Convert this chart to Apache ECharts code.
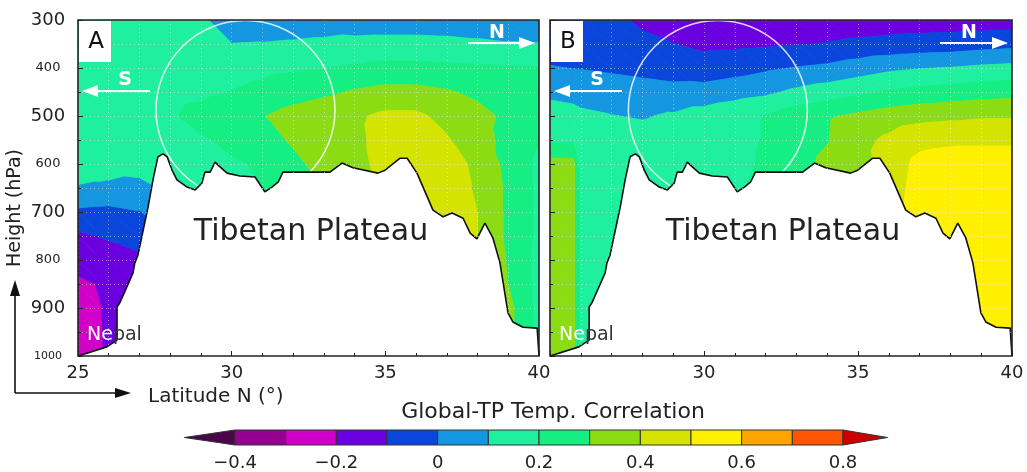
<!DOCTYPE html>
<html><head><meta charset="utf-8">
<script src="https://cdn.jsdelivr.net/npm/echarts@6/dist/echarts.min.js"></script>
<style>html,body{margin:0;padding:0;background:#fff}#c{width:1027px;height:472px}</style>
</head><body><div id="c"></div>
<script>
// ---------- data ----------
const lats = [25, 25.75, 26, 27, 28, 29, 30, 31, 32, 33, 34, 35, 36, 37, 38, 39, 40];
const pressures = [300, 350, 400, 450, 500, 550, 600, 650, 700, 750, 800, 850, 900, 950, 1000];

// Panel A correlation (rows: pressures, cols: lats)
const corrA = [
  [0.13, 0.13, 0.13, 0.12, 0.12, 0.11, 0.07, 0.06, 0.06, 0.06, 0.05, 0.05, 0.05, 0.05, 0.05, 0.06, 0.07],
  [0.15, 0.15, 0.15, 0.15, 0.15, 0.13, 0.101, 0.103, 0.108, 0.115, 0.125, 0.13, 0.13, 0.125, 0.115, 0.105, 0.102],
  [0.16, 0.16, 0.16, 0.16, 0.16, 0.16, 0.17, 0.18, 0.19, 0.198, 0.215, 0.23, 0.23, 0.22, 0.215, 0.21, 0.205],
  [0.16, 0.16, 0.16, 0.16, 0.17, 0.18, 0.202, 0.22, 0.25, 0.28, 0.31, 0.33, 0.33, 0.31, 0.28, 0.25, 0.22],
  [0.16, 0.16, 0.16, 0.17, 0.19, 0.23, 0.27, 0.295, 0.34, 0.37, 0.385, 0.42, 0.42, 0.37, 0.33, 0.28, 0.22],
  [0.14, 0.15, 0.15, 0.16, 0.17, 0.19, 0.22, 0.27, 0.31, 0.35, 0.38, 0.43, 0.44, 0.41, 0.34, 0.27, 0.205],
  [0.13, 0.13, 0.13, 0.14, 0.15, 0.17, 0.19, 0.21, 0.28, 0.33, 0.37, 0.43, 0.45, 0.44, 0.38, 0.27, 0.18],
  [0.095, 0.088, 0.085, 0.07, 0.12, 0.15, 0.18, 0.2, 0.25, 0.3, 0.35, 0.42, 0.45, 0.44, 0.39, 0.28, 0.18],
  [-0.02, -0.028, -0.03, -0.005, 0.05, 0.1, 0.15, 0.2, 0.25, 0.3, 0.35, 0.42, 0.45, 0.44, 0.40, 0.28, 0.18],
  [-0.12, -0.095, -0.09, -0.06, 0.01, 0.05, 0.1, 0.15, 0.2, 0.25, 0.3, 0.4, 0.45, 0.44, 0.40, 0.28, 0.18],
  [-0.17, -0.15, -0.14, -0.12, -0.05, 0.0, 0.05, 0.1, 0.15, 0.2, 0.25, 0.35, 0.42, 0.42, 0.40, 0.29, 0.17],
  [-0.215, -0.195, -0.18, -0.15, -0.1, -0.05, 0.0, 0.05, 0.1, 0.15, 0.2, 0.3, 0.4, 0.4, 0.40, 0.30, 0.17],
  [-0.27, -0.201, -0.18, -0.16, -0.12, -0.08, -0.04, 0.0, 0.05, 0.1, 0.15, 0.25, 0.35, 0.38, 0.38, 0.33, 0.17],
  [-0.28, -0.205, -0.18, -0.16, -0.12, -0.08, -0.04, 0.0, 0.05, 0.1, 0.15, 0.25, 0.35, 0.38, 0.38, 0.33, 0.17],
  [-0.28, -0.21, -0.18, -0.16, -0.12, -0.08, -0.04, 0.0, 0.05, 0.1, 0.15, 0.25, 0.35, 0.38, 0.38, 0.33, 0.17]
];

// Panel B correlation
const corrB = [
  [-0.03, -0.05, -0.055, -0.08, -0.115, -0.15, -0.17, -0.18, -0.18, -0.17, -0.16, -0.16, -0.15, -0.15, -0.15, -0.15, -0.15],
  [-0.04, -0.045, -0.05, -0.06, -0.08, -0.098, -0.12, -0.12, -0.115, -0.105, -0.095, -0.08, -0.07, -0.06, -0.055, -0.04, -0.03],
  [0.005, -0.002, -0.005, -0.02, -0.035, -0.05, -0.06, -0.04, -0.015, 0.005, 0.02, 0.05, 0.08, 0.095, 0.105, 0.12, 0.13],
  [0.09, 0.085, 0.08, 0.065, 0.05, 0.035, 0.04, 0.06, 0.08, 0.12, 0.15, 0.18, 0.21, 0.23, 0.245, 0.26, 0.27],
  [0.12, 0.115, 0.11, 0.102, 0.094, 0.11, 0.14, 0.17, 0.205, 0.26, 0.29, 0.32, 0.35, 0.37, 0.38, 0.39, 0.39],
  [0.18, 0.18, 0.15, 0.13, 0.13, 0.14, 0.16, 0.18, 0.205, 0.26, 0.295, 0.37, 0.42, 0.47, 0.48, 0.48, 0.48],
  [0.34, 0.34, 0.16, 0.16, 0.15, 0.16, 0.17, 0.18, 0.21, 0.27, 0.32, 0.36, 0.44, 0.53, 0.55, 0.56, 0.56],
  [0.34, 0.34, 0.16, 0.16, 0.15, 0.16, 0.17, 0.19, 0.22, 0.27, 0.32, 0.38, 0.45, 0.54, 0.57, 0.58, 0.58],
  [0.34, 0.34, 0.16, 0.16, 0.15, 0.16, 0.17, 0.19, 0.22, 0.27, 0.32, 0.38, 0.45, 0.55, 0.58, 0.58, 0.58],
  [0.34, 0.34, 0.16, 0.16, 0.15, 0.16, 0.17, 0.19, 0.22, 0.27, 0.32, 0.38, 0.45, 0.55, 0.58, 0.58, 0.58],
  [0.34, 0.34, 0.16, 0.16, 0.15, 0.16, 0.17, 0.19, 0.22, 0.27, 0.32, 0.38, 0.45, 0.55, 0.58, 0.58, 0.58],
  [0.34, 0.34, 0.16, 0.16, 0.15, 0.16, 0.17, 0.19, 0.22, 0.27, 0.32, 0.38, 0.45, 0.55, 0.58, 0.58, 0.58],
  [0.34, 0.34, 0.16, 0.16, 0.15, 0.16, 0.17, 0.19, 0.22, 0.27, 0.32, 0.38, 0.45, 0.55, 0.58, 0.58, 0.58],
  [0.34, 0.34, 0.16, 0.16, 0.15, 0.16, 0.17, 0.19, 0.22, 0.27, 0.32, 0.38, 0.45, 0.55, 0.58, 0.58, 0.58],
  [0.34, 0.34, 0.16, 0.16, 0.15, 0.16, 0.17, 0.19, 0.22, 0.27, 0.32, 0.38, 0.45, 0.55, 0.58, 0.58, 0.58]
];

// Topography (latitude, surface pressure)
const terrainLat = [25.00, 25.94, 26.27, 26.27, 26.37, 26.59, 26.79, 26.85, 26.95, 27.12, 27.28, 27.44, 27.60, 27.77, 27.90, 28.06, 28.22, 28.55, 28.81, 29.03, 29.13, 29.30, 29.46, 29.62, 29.85, 30.27, 30.76, 31.08, 31.31, 31.51, 31.67, 33.20, 33.59, 33.95, 34.76, 34.99, 35.48, 35.71, 36.03, 36.55, 36.88, 37.17, 37.53, 37.76, 37.98, 38.24, 38.50, 38.73, 38.99, 39.15, 39.48, 39.94, 40.00, 40.00];
const terrainP = [1000, 981, 967, 898, 888, 856, 827, 806, 790, 738, 690, 633, 585, 579, 585, 613, 633, 648, 654, 640, 617, 617, 596, 606, 619, 625, 627, 658, 648, 638, 617, 617, 598, 608, 619, 613, 588, 588, 619, 696, 710, 702, 713, 744, 756, 723, 754, 806, 910, 929, 940, 942, 942, 1000];

const circleCenter = [30.45, 487.5];
const contourLevels = [-0.4, -0.3, -0.2, -0.1, 0, 0.1, 0.2, 0.3, 0.4, 0.5, 0.6, 0.7, 0.8];
const latTicks = [25, 30, 35, 40];
const pressureTicks = [300, 400, 500, 600, 700, 800, 900, 1000];

// ---------- style ----------
const palette = ['#4a0648', '#94008f', '#d000c8', '#6a00e0', '#0a46dc', '#1496e0', '#1ef0a0',
                 '#14ee82', '#8cdc14', '#d4e400', '#fff000', '#ffa500', '#ff5500', '#cc0000'];
const FONT = 'DejaVu Sans';
const TXT = '#222';

function clipPoly(poly, level, keepAbove) {
  const out = [];
  for (let n = 0; n < poly.length; n++) {
    const a = poly[n], b = poly[(n + 1) % poly.length];
    const ina = keepAbove ? a.v >= level : a.v <= level;
    const inb = keepAbove ? b.v >= level : b.v <= level;
    if (ina) out.push(a);
    if (ina !== inb) {
      const t = (level - a.v) / (b.v - a.v);
      out.push({x: a.x + t * (b.x - a.x), y: a.y + t * (b.y - a.y), v: level});
    }
  }
  return out;
}

function contourSeries(grid, axisIdx) {
  const data = [];
  for (let j = 0; j < pressures.length - 1; j++)
    for (let i = 0; i < lats.length - 1; i++)
      data.push([lats[i], pressures[j], i, j]);
  return {
    type: 'custom', xAxisIndex: axisIdx, yAxisIndex: axisIdx, clip: true, z: 1, silent: true,
    encode: {x: 0, y: 1}, data,
    renderItem: function (params, api) {
      const i = api.value(2), j = api.value(3);
      const P = (a, b) => ({x: lats[a], y: pressures[b], v: grid[b][a]});
      const c00 = P(i, j), c10 = P(i + 1, j), c01 = P(i, j + 1), c11 = P(i + 1, j + 1);
      const tris = [[c00, c10, c11], [c00, c11, c01]];
      const children = [];
      tris.forEach(t => {
        const vs = t.map(q => q.v);
        const vmin = Math.min.apply(null, vs), vmax = Math.max.apply(null, vs);
        for (let k = 0; k < palette.length; k++) {
          const lo = k === 0 ? -Infinity : contourLevels[k - 1];
          const hi = k === palette.length - 1 ? Infinity : contourLevels[k];
          if (vmax < lo || vmin > hi) continue;
          let poly = clipPoly(t, lo, true);
          if (poly.length < 3) continue;
          poly = clipPoly(poly, hi, false);
          if (poly.length < 3) continue;
          const pts = poly.map(q => api.coord([q.x, q.y]));
          children.push({type: 'polygon', shape: {points: pts},
            style: {fill: palette[k], stroke: palette[k], lineWidth: 0.8}});
        }
      });
      return {type: 'group', children};
    }
  };
}

function terrainSeries(axisIdx) {
  return {
    type: 'line', xAxisIndex: axisIdx, yAxisIndex: axisIdx, silent: true, z: 5,
    data: terrainLat.map((x, k) => [x, terrainP[k]]),
    symbol: 'none', animation: false,
    lineStyle: {color: '#111', width: 1.6},
    areaStyle: {color: '#fff', opacity: 1, origin: 'end'}
  };
}

function circleSeries(axisIdx) {
  return {
    type: 'scatter', xAxisIndex: axisIdx, yAxisIndex: axisIdx, silent: true, z: 3,
    data: [circleCenter], symbol: 'circle', symbolSize: 179, clip: false,
    itemStyle: {color: 'rgba(0,0,0,0)', borderColor: '#fff', borderWidth: 1.6}
  };
}

const dotted = {color: 'rgba(255,255,255,0.45)', type: [1, 3], width: 1};

function latAxis(gridIndex, showMin) {
  return {
    type: 'value', gridIndex, min: 25, max: 40, interval: 5, z: 6,
    axisLine: {show: false},
    axisTick: {show: true, inside: true, length: 5, lineStyle: {color: '#222'}},
    minorTick: {show: true, splitNumber: 5, length: 3, lineStyle: {color: '#222'}},
    splitLine: {show: true, lineStyle: dotted},
    minorSplitLine: {show: true, lineStyle: dotted},
    axisLabel: {fontFamily: FONT, fontSize: 18, color: TXT, margin: 8, showMinLabel: showMin,
      formatter: v => latTicks.includes(v) ? String(v) : ''}
  };
}

function presAxis(gridIndex, showLabels) {
  return {
    type: 'value', gridIndex, min: 300, max: 1000, interval: 100, inverse: true, z: 6,
    axisLine: {show: false},
    axisTick: {show: true, inside: true, length: 5, lineStyle: {color: '#222'}},
    minorTick: {show: true, splitNumber: 2, length: 3, lineStyle: {color: '#222'}},
    splitLine: {show: true, lineStyle: dotted},
    minorSplitLine: {show: true, lineStyle: dotted},
    axisLabel: {show: showLabels, align: 'center', margin: 30, fontFamily: FONT, color: TXT,
      formatter: v => {
        if (!pressureTicks.includes(v)) return '';
        if (v === 1000) return '{t|' + v + '}';
        return (v / 100) % 2 === 1 ? '{b|' + v + '}' : '{s|' + v + '}';
      },
      rich: {b: {fontSize: 18, fontFamily: FONT, color: TXT}, s: {fontSize: 13, fontFamily: FONT, color: TXT},
             t: {fontSize: 11, fontFamily: FONT, color: TXT}}}
  };
}

function arrow(x1, y1, x2, y2, color, lw, hl, hw) {
  const dx = x2 - x1, dy = y2 - y1, L = Math.hypot(dx, dy), ux = dx / L, uy = dy / L;
  const bx = x2 - ux * hl, by = y2 - uy * hl;
  return [
    {type: 'line', z: 20, shape: {x1, y1, x2: bx, y2: by}, style: {stroke: color, lineWidth: lw}},
    {type: 'polygon', z: 20, shape: {points: [[x2, y2], [bx - uy * hw, by + ux * hw], [bx + uy * hw, by - ux * hw]]},
     style: {fill: color}}
  ];
}
function txt(x, y, text, size, color, opts) {
  return Object.assign({type: 'text', x, y, z: 20,
    style: {text, fontFamily: FONT, fontSize: size, fill: color, align: 'center', verticalAlign: 'middle'}}, opts || {});
}
function boldTxt(x, y, text, size, color) {
  return {type: 'text', x, y, z: 20,
    style: {text, fontFamily: FONT, fontSize: size, fontWeight: 'bold', fill: color, align: 'center', verticalAlign: 'middle'}};
}

const panels = [{left: 78, width: 461, label: 'A'}, {left: 550, width: 462, label: 'B'}];
const graphics = [];
panels.forEach(pn => {
  const L = pn.left;
  graphics.push({type: 'rect', z: 19, shape: {x: L, y: 20, width: pn.width, height: 336},
    style: {fill: 'none', stroke: '#222', lineWidth: 1.6}});
  graphics.push({type: 'rect', z: 19, shape: {x: L + 1, y: 21, width: 32, height: 41}, style: {fill: '#fff'}});
  graphics.push(txt(L + 18, 42, pn.label, 23, '#111'));
  graphics.push(...arrow(L + 72, 91, L + 4, 91, '#fff', 2, 16, 6));
  graphics.push(boldTxt(L + 47, 80, 'S', 19, '#fff'));
  graphics.push(...arrow(L + 390, 43, L + pn.width - 4, 43, '#fff', 2, 16, 6));
  graphics.push(boldTxt(L + 419, 33, 'N', 19, '#fff'));
  graphics.push(txt(L + 233, 232, 'Tibetan Plateau', 30, '#222'));
  graphics.push({type: 'text', z: 20, x: L + 9, y: 335,
    style: {text: '{w|Ne}{d|pal}', fontFamily: FONT, fontSize: 19, align: 'left', verticalAlign: 'middle',
      rich: {w: {fill: '#fff', fontFamily: FONT, fontSize: 19}, d: {fill: '#333', fontFamily: FONT, fontSize: 19}}}});
});
graphics.push(...arrow(15, 393, 15, 280, '#111', 1.6, 16, 5));
graphics.push(...arrow(15, 393, 131, 393, '#111', 1.6, 16, 5));
graphics.push(txt(15, 208, 'Height (hPa)', 19, TXT, {rotation: Math.PI / 2}));
graphics.push({type: 'text', z: 20, x: 148, y: 397,
  style: {text: 'Latitude N (°)', fontFamily: FONT, fontSize: 20, fill: TXT, align: 'left', verticalAlign: 'middle'}});
graphics.push(txt(553, 412, 'Global-TP Temp. Correlation', 22, TXT));

const colorbarData = palette.map((c, k) => [
  k === 0 ? contourLevels[0] - 0.1 : contourLevels[k - 1],
  k === palette.length - 1 ? contourLevels[contourLevels.length - 1] + 0.088 : contourLevels[k], k]);

const option = {
  animation: false,
  backgroundColor: '#fff',
  grid: [
    {left: 78, top: 20, width: 461, height: 336, containLabel: false},
    {left: 550, top: 20, width: 462, height: 336, containLabel: false},
    {left: 235, top: 430, width: 608, height: 15, containLabel: false}
  ],
  xAxis: [latAxis(0, true), latAxis(1, false),
    {type: 'value', gridIndex: 2, min: -0.4, max: 0.8, interval: 0.2,
     axisLine: {show: false}, axisTick: {show: false}, splitLine: {show: false},
     axisLabel: {fontFamily: FONT, fontSize: 18, color: TXT, margin: 9,
       formatter: v => Math.abs(v) < 1e-9 ? '0' : v.toFixed(1).replace('-', '\u2212')}}],
  yAxis: [presAxis(0, true), presAxis(1, false),
    {type: 'value', gridIndex: 2, min: 0, max: 1, show: false}],
  series: [
    contourSeries(corrA, 0), circleSeries(0), terrainSeries(0),
    contourSeries(corrB, 1), circleSeries(1), terrainSeries(1),
    {type: 'custom', xAxisIndex: 2, yAxisIndex: 2, clip: false, silent: true, z: 5,
     encode: {x: [0, 1], y: 2}, data: colorbarData,
     renderItem: function (params, api) {
       const lo = api.value(0), hi = api.value(1), k = api.value(2);
       const last = palette.length - 1;
       let pts;
       if (k === 0) pts = [api.coord([hi, 0]), api.coord([hi, 1]), api.coord([lo, 0.5])];
       else if (k === last) pts = [api.coord([lo, 0]), api.coord([lo, 1]), api.coord([hi, 0.5])];
       else pts = [api.coord([lo, 0]), api.coord([hi, 0]), api.coord([hi, 1]), api.coord([lo, 1])];
       return {type: 'polygon', shape: {points: pts}, style: {fill: palette[k], stroke: '#333', lineWidth: 1}};
     }}
  ],
  graphic: graphics
};

const chart = echarts.init(document.getElementById('c'));
chart.setOption(option);
</script>
</body></html>
